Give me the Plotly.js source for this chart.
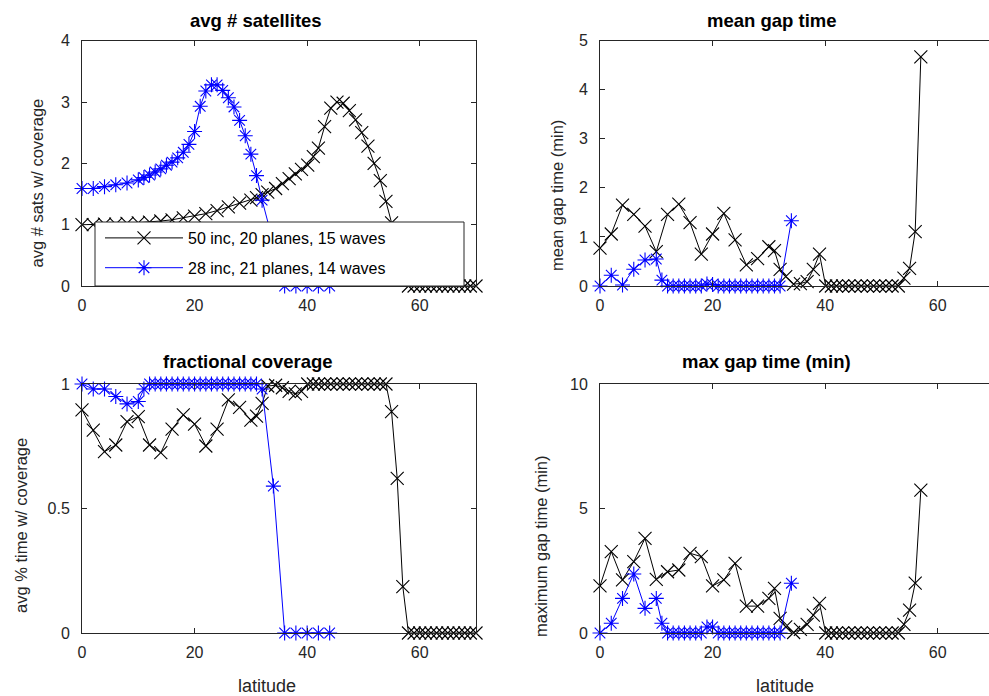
<!DOCTYPE html>
<html><head><meta charset="utf-8">
<script src="https://cdn.plot.ly/plotly-3.0.1.min.js"></script>
<style>html,body{margin:0;padding:0;overflow:hidden;background:#fff}#plot{width:1000px;height:696px}</style>
</head><body><div id="plot"></div><script>
// ---------- data ----------
const seriesNames = ['50 inc, 20 planes, 15 waves', '28 inc, 21 planes, 14 waves'];

const latBlack = [0,2,4,6,8,10,12,14,16,18,20,22,24,26,28,30,31,32,33,34.4,35.6,36.8,37.9,39.0,40.1,
  41.1,42.0,43.1,44.2,45.3,46.4,47.5,48.6,49.7,50.8,51.9,53.0,54,55,56,57,58,59,60,61,62,63,64,65,66,67,68,69,70];
const avgSatsBlack = [1.00,1.00,1.01,1.01,1.02,1.03,1.04,1.06,1.08,1.11,1.14,1.18,1.23,1.29,1.35,1.40,1.44,1.49,1.53,1.59,1.67,1.75,1.83,1.90,1.97,
  2.11,2.25,2.60,2.90,3.00,2.98,2.86,2.71,2.50,2.28,2.00,1.72,1.38,1.03,0.60,0.19,0,0,0,0,0,0,0,0,0,0,0,0,0];
const fracCovBlack = [0.896,0.815,0.728,0.755,0.849,0.869,0.755,0.724,0.819,0.876,0.839,0.751,0.819,0.936,0.906,0.855,0.871,0.922,0.992,0.995,0.985,0.970,0.960,0.970,1.0,
  1,1,1,1,1,1,1,1,1,1,1,1,1.0,0.889,0.621,0.186,0,0,0,0,0,0,0,0,0,0,0,0,0];
const meanGapBlack = [0.77,1.06,1.65,1.46,1.22,0.70,1.46,1.67,1.29,0.65,1.06,1.48,0.94,0.43,0.56,0.80,0.72,0.34,0.19,0.04,0.05,0.09,0.34,0.65,0.0,
  0,0,0,0,0,0,0,0,0,0,0,0,0.16,0.36,1.11,4.67,null,null,null,null,null,null,null,null,null,null,null,null,null];
const maxGapBlack = [1.89,3.27,2.13,2.87,3.80,2.15,2.46,2.53,3.20,3.07,1.89,2.13,2.80,1.08,1.08,1.39,1.79,0.59,0.25,0.02,0.15,0.35,0.72,1.19,0.0,
  0,0,0,0,0,0,0,0,0,0,0,0,0.35,0.92,2.00,5.74,null,null,null,null,null,null,null,null,null,null,null,null,null];

const latBlue = [0,2,4,6,8,10,11,12,13,14,15,16,17,18,19,20,21,22,23,24,25,26,27,28,29,30,31,32,34,36,38,40,42,44];
const avgSatsBlue = [1.59,1.59,1.62,1.65,1.68,1.73,1.77,1.81,1.86,1.91,1.97,2.02,2.09,2.18,2.31,2.52,2.93,3.18,3.28,3.28,3.19,3.07,2.92,2.70,2.45,2.15,1.80,1.40,0.72,0,0,0,0,0];
const fracCovBlue = [1.0,0.98,0.98,0.95,0.92,0.93,0.98,1,1,1,1,1,1,1,1,1,1,1,1,1,1,1,1,1,1,1,1,0.98,0.59,0,0,0,0,0];
const meanGapBlue = [0,0.22,0.02,0.34,0.53,0.55,0.12,0,0,0,0,0,0,0,0.04,0.03,0,0,0,0,0,0,0,0,0,0,0,0,1.33,null,null,null,null,null];
const maxGapBlue = [0,0.39,1.39,2.37,0.99,1.39,0.39,0,0,0,0,0,0,0,0.24,0.24,0,0,0,0,0,0,0,0,0,0,0,0,2.00,null,null,null,null,null];

const xTicks = [0,20,40,60];
const yTicksSats = [0,1,2,3,4];
const yTicksMean = [0,1,2,3,4,5];
const yTicksCov = [0,0.5,1];
const yTicksMax = [0,5,10];

// ---------- layout helpers ----------
const W = 1000, H = 696;
const px = v => v / W, py = v => 1 - v / H;
const AX = '#262626';
const FONT = '"Liberation Sans", Arial, Helvetica, sans-serif';

function axis(domain, range, tickvals, anchor, standoff) {
  return {
    domain: domain, range: range, tickvals: tickvals, anchor: anchor,
    ticks: 'inside', ticklen: 5, tickwidth: 1, tickcolor: AX,
    showline: true, linecolor: AX, linewidth: 1, mirror: 'ticks',
    showgrid: false, zeroline: false, fixedrange: true,
    tickfont: {family: FONT, size: 16, color: AX},
    ticklabelstandoff: standoff
  };
}
const dxL = [px(82), px(476)], dxR = [px(600), px(994)];
const dyT = [py(286), py(40.7)], dyB = [py(633), py(384)];

const blackStyle = {mode: 'lines+markers', line: {color: '#000000', width: 1},
  marker: {symbol: 'x-thin', size: 13, color: '#000000', line: {color: '#000000', width: 1.1}}, cliponaxis: false};
const blueStyle = {mode: 'lines+markers', line: {color: '#0000FF', width: 1},
  marker: {symbol: 'asterisk', size: 12.5, color: '#0000FF', line: {color: '#0000FF', width: 1.1}}, cliponaxis: false};

function tr(style, x, y, xa, ya, name, showlegend, group) {
  return Object.assign({}, style, {x: x, y: y, xaxis: xa, yaxis: ya, name: name,
    showlegend: showlegend, legendgroup: group, connectgaps: false, hoverinfo: 'skip'});
}

const data = [
  tr(blackStyle, latBlack, avgSatsBlack, 'x', 'y', seriesNames[0], true, 'a'),
  tr(blueStyle, latBlue, avgSatsBlue, 'x', 'y', seriesNames[1], true, 'b'),
  tr(blackStyle, latBlack, meanGapBlack, 'x2', 'y2', seriesNames[0], false, 'a'),
  tr(blueStyle, latBlue, meanGapBlue, 'x2', 'y2', seriesNames[1], false, 'b'),
  tr(blackStyle, latBlack, fracCovBlack, 'x3', 'y3', seriesNames[0], false, 'a'),
  tr(blueStyle, latBlue, fracCovBlue, 'x3', 'y3', seriesNames[1], false, 'b'),
  tr(blackStyle, latBlack, maxGapBlack, 'x4', 'y4', seriesNames[0], false, 'a'),
  tr(blueStyle, latBlue, maxGapBlue, 'x4', 'y4', seriesNames[1], false, 'b')
];

function ann(text, x, y, size, opts) {
  return Object.assign({text: text, x: px(x), y: py(y), xref: 'paper', yref: 'paper',
    xanchor: 'center', yanchor: 'middle', showarrow: false,
    font: {family: FONT, size: size, color: AX}}, opts || {});
}
const titleFont = s => ({family: FONT, size: s, color: '#000', weight: 'bold'});

const layout = {
  width: W, height: H, margin: {l: 0, r: 0, t: 0, b: 0},
  paper_bgcolor: '#ffffff', plot_bgcolor: '#ffffff',
  font: {family: FONT, color: AX},
  xaxis: axis(dxL, [0, 70], xTicks, 'y', 5),
  yaxis: axis(dyT, [0, 4], yTicksSats, 'x', 8),
  xaxis2: axis(dxR, [0, 70], xTicks, 'y2', 5),
  yaxis2: axis(dyT, [0, 5], yTicksMean, 'x2', 8),
  xaxis3: axis(dxL, [0, 70], xTicks, 'y3', 5),
  yaxis3: axis(dyB, [0, 1], yTicksCov, 'x3', 8),
  xaxis4: axis(dxR, [0, 70], xTicks, 'y4', 5),
  yaxis4: axis(dyB, [0, 10], yTicksMax, 'x4', 8),
  showlegend: true,
  legend: {x: px(100), y: py(221), xanchor: 'left', yanchor: 'top', bgcolor: 'rgba(0,0,0,0)',
    borderwidth: 0, font: {family: FONT, size: 16, color: '#000'}, tracegroupgap: 6, itemwidth: 78},
  shapes: [{type: 'rect', xref: 'paper', yref: 'paper', x0: px(95), x1: px(464), y0: py(286), y1: py(222),
    fillcolor: '#ffffff', line: {color: AX, width: 1}, layer: 'above'}],
  annotations: [
    ann('avg # satellites', 255.5, 20, 18.5, {font: titleFont(18.5)}),
    ann('mean gap time', 772, 20, 18.5, {font: titleFont(18.5)}),
    ann('fractional coverage', 248, 362, 18.5, {font: titleFont(18.5)}),
    ann('max gap time (min)', 766, 362, 18.5, {font: titleFont(18.5)}),
    ann('latitude', 267, 686, 18),
    ann('latitude', 785, 686, 18),
    ann('avg # sats w/ coverage', 37, 183.5, 16.5, {textangle: -90}),
    ann('avg % time w/ coverage', 21, 526, 16.5, {textangle: -90}),
    ann('mean gap time (min)', 557, 196, 16.5, {textangle: -90}),
    ann('maximum gap time (min)', 541, 546, 16.5, {textangle: -90})
  ]
};

Plotly.newPlot('plot', data, layout, {staticPlot: true, displayModeBar: false});
</script></body></html>
